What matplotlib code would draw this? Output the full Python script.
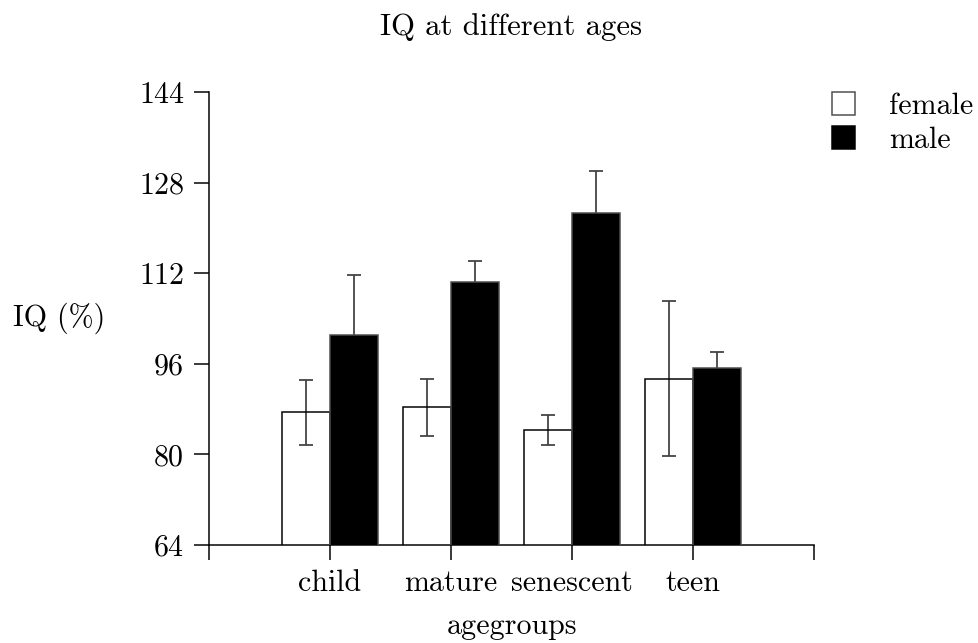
import numpy as np
import matplotlib
matplotlib.use("Agg")
import matplotlib.pyplot as plt
from matplotlib.patches import Patch

plt.rcParams['font.family'] = 'serif'
plt.rcParams['font.serif'] = ['cmr10']
plt.rcParams['mathtext.fontset'] = 'cm'
plt.rcParams['axes.unicode_minus'] = False
plt.rcParams['font.size'] = 12

groups = ['child', 'mature', 'senescent', 'teen']
female = [87.4, 88.3, 84.3, 93.4]
female_err = [5.7, 5.1, 2.7, 13.7]
male = [101.0, 110.5, 122.6, 95.3]
male_err = [10.6, 3.7, 7.4, 2.7]
yticks = [64, 80, 96, 112, 128, 144]

dpi = 180
fig = plt.figure(figsize=(978 / dpi, 643 / dpi), dpi=dpi)
ax = fig.add_axes([209 / 978, 1 - 545 / 643, (814 - 209) / 978, (545 - 92) / 643])

x = np.arange(len(groups))
w = 0.4
ekw = dict(ecolor='0.25', elinewidth=0.7, capsize=2.8, capthick=0.7, zorder=2)
# white bars have no fill, so the error bar behind them shows through
ax.bar(x - w / 2, female, w, yerr=female_err, color='none', edgecolor='black',
       linewidth=0.6, error_kw=ekw, label='female', zorder=3)
ax.bar(x + w / 2, male, w, yerr=male_err, color='black', edgecolor='0.3',
       linewidth=0.6, error_kw=ekw, label='male', zorder=3)

ax.set_xlim(-1, 4)
ax.set_ylim(64, 144)
ax.set_xticks([-1, 0, 1, 2, 3, 4])
ax.set_xticklabels([''] + groups + [''])
ax.set_yticks(yticks)
ax.set_yticklabels([str(v) for v in yticks])
ax.tick_params(direction='out', length=6, width=0.6, pad=4)

for s in ['top', 'right']:
    ax.spines[s].set_visible(False)
for s in ['left', 'bottom']:
    ax.spines[s].set_linewidth(0.6)

ax.set_title('IQ at different ages', fontsize=12.3, pad=22.8)
ax.set_xlabel('agegroups', labelpad=6)
ax.set_ylabel('IQ (%)', rotation=0, ha='right', va='center')
ax.yaxis.set_label_coords(-0.172, 0.5)

handles = [Patch(facecolor='white', edgecolor='0.3', linewidth=0.6),
           Patch(facecolor='black', edgecolor='black', linewidth=0.6)]
fig.legend(handles, ['female', 'male'], loc='upper left',
           bbox_to_anchor=(832 / 978, 1 - 92 / 643), frameon=False,
           borderpad=0, borderaxespad=0, handlelength=0.78, handleheight=0.78,
           handletextpad=1.13, labelspacing=0.22)

fig.savefig('out.png', dpi=dpi)
